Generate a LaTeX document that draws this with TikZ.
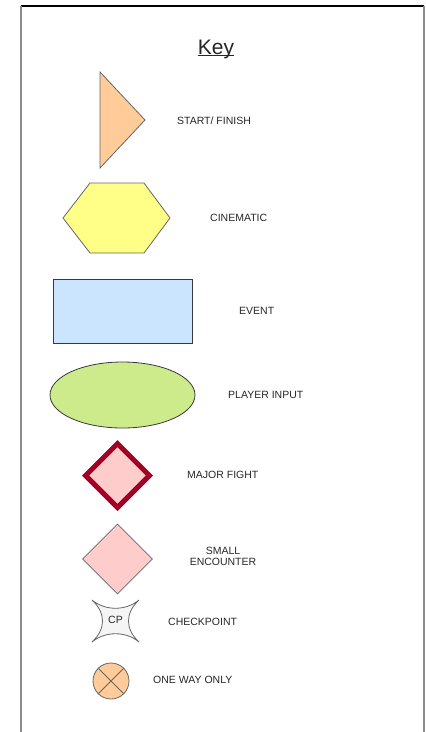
\documentclass[tikz,border=0pt]{standalone}
\usepackage{fontspec}
\setmainfont{Liberation Sans}
\usepackage{tikz}
\usetikzlibrary{shapes,positioning,calc}

\definecolor{linegray}{HTML}{666666}
\definecolor{darkline}{HTML}{36393D}
\definecolor{peach}{HTML}{FFCC99}
\definecolor{paleyellow}{HTML}{FFFF88}
\definecolor{paleblue}{HTML}{CCE5FF}
\definecolor{palegreen}{HTML}{CDEB8B}
\definecolor{palepink}{HTML}{FFCCCC}
\definecolor{crimson}{HTML}{A20025}
\definecolor{lightgray}{HTML}{F5F5F5}

\begin{document}
\begin{tikzpicture}[
    x=1pt, y=-1pt,
    keytext/.style={font=\fontsize{10.5}{12.5}\selectfont, text=black!85, inner sep=0pt, anchor=west},
    outline/.style={draw=linegray, line width=0.8pt},
    eventbox/.style={draw=darkline, line width=0.8pt, fill=paleblue, rectangle, minimum width=139pt, minimum height=64pt, inner sep=0pt},
    inputoval/.style={draw=darkline, line width=0.8pt, fill=palegreen, ellipse, minimum width=145pt, minimum height=66pt, inner sep=0pt},
    fightdiamond/.style={draw=crimson, line width=5pt, fill=palepink, diamond, minimum width=66pt, minimum height=66pt, inner sep=0pt},
    encounterdiamond/.style={outline, fill=palepink, diamond, minimum width=70pt, minimum height=70pt, inner sep=0pt},
    oneway/.style={outline, fill=peach, circle, minimum size=36pt, inner sep=0pt}
]
    \useasboundingbox (0,0) rectangle (426,732);

    % page frame
    \draw[line width=1.5pt, black] (21,6) -- (424,6);
    \draw[line width=1.5pt, black!45] (21,6) -- (21,740);
    \draw[line width=1.5pt, black!45] (424,6) -- (424,740);

    % title
    \node[font=\fontsize{21}{24}\selectfont, text=black!85, inner sep=0pt, anchor=base] (keytitle) at (216,54) {Key};
    \draw[line width=1.2pt, black!85] ([yshift=-1.5pt]keytitle.base west) -- ([yshift=-1.5pt]keytitle.base east);

    % start / finish
    \draw[outline, fill=peach] (100,72) -- (145,120) -- (100,168) -- cycle;
    \node[keytext] (startlbl) at (177,121) {START/ FINISH};

    % cinematic
    \draw[outline, fill=paleyellow] (63,218) -- (90,183) -- (144,183) -- (170,218) -- (144,253) -- (90,253) -- cycle;
    \node[keytext] (cinelbl) at (210,218) {CINEMATIC};

    % event
    \node[eventbox] (event) at (122.5,311) {};
    \node[keytext] (eventlbl) at (239,311) {EVENT};

    % player input
    \node[inputoval] (input) at (122.5,395) {};
    \node[keytext] (inputlbl) at (228,395) {PLAYER INPUT};

    % major fight
    \node[fightdiamond] (major) at (117.5,475.5) {};
    \node[keytext] (majorlbl) at (187,475) {MAJOR FIGHT};

    % small encounter
    \node[encounterdiamond] (small) at (117.5,559) {};
    \node[keytext, anchor=center, align=center] (smalllbl) at (223,556) {SMALL\\[-1.5pt]ENCOUNTER};

    % checkpoint
    \draw[outline, fill=lightgray] (92,600) .. controls (105,611) and (126,611) .. (139,600)
        .. controls (125,613) and (125,629) .. (139,642)
        .. controls (126,631) and (105,631) .. (92,642)
        .. controls (106,629) and (106,613) .. (92,600) -- cycle;
    \node[keytext, anchor=center] (cp) at (115.5,620) {CP};
    \node[keytext] (cplbl) at (168,622) {CHECKPOINT};

    % one way only
    \node[oneway] (way) at (111,681) {};
    \draw[outline] (way.45) -- (way.225);
    \draw[outline] (way.135) -- (way.315);
    \node[keytext] (waylbl) at (153,680) {ONE WAY ONLY};
\end{tikzpicture}
\end{document}
